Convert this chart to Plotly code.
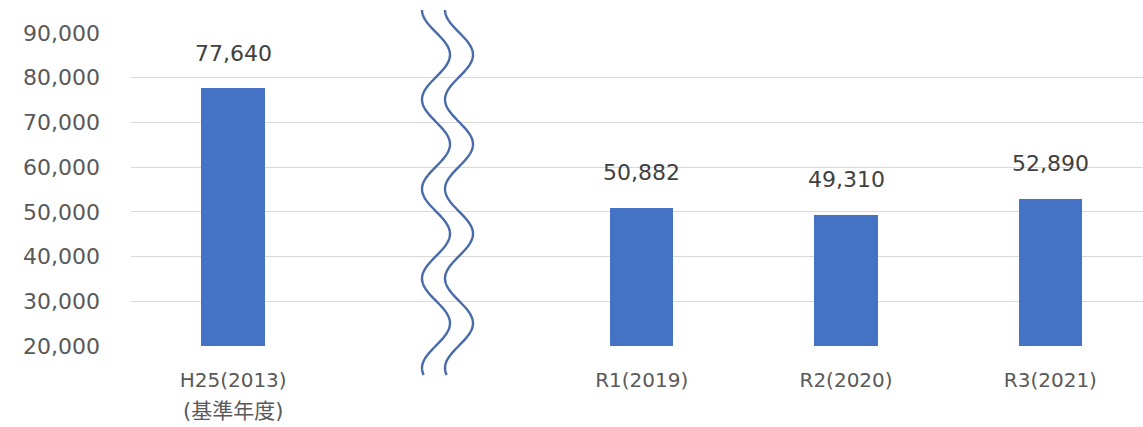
import numpy as np
import plotly.graph_objects as go

categories = ["H25(2013)", "", "R1(2019)", "R2(2020)", "R3(2021)"]
values = [77640, None, 50882, 49310, 52890]
sub_label = "(基準年度)"
y_ticks = [20000, 30000, 40000, 50000, 60000, 70000, 80000, 90000]

W, H = 1143, 427
ML, MR, MT, MB = 131, 0, 33, 81
PW, PH = W - ML - MR, H - MT - MB
slot = 204.3
xr = [-0.5, -0.5 + PW / slot]

FONT = "DejaVu Sans, Noto Sans CJK JP, sans-serif"
BAR = "#4472C4"

xs = list(range(len(categories)))
fig = go.Figure()
fig.add_trace(go.Bar(
    x=xs, y=values, width=0.31, marker=dict(color=BAR, line=dict(width=0)),
    hoverinfo="skip", showlegend=False,
))

for x, v in zip(xs, values):
    if v is None:
        continue
    fig.add_annotation(x=x, y=v, xref="x", yref="y", text=f"{v:,}",
                       showarrow=False, yshift=35, yanchor="middle",
                       font=dict(family=FONT, size=22, color="#404040"))

fig.add_annotation(x=0, y=(MT + PH - 411) / PH, xref="x", yref="paper",
                   text=sub_label, showarrow=False, yanchor="middle",
                   font=dict(family=FONT, size=21, color="#595959"))

# axis-break wavy lines (decoration)
def wave_path(cx):
    py = np.linspace(10, 375, 240)
    px = cx - 14 * np.cos(2 * np.pi * (py - 10) / 89.5)
    pts = [((a - ML) / PW, (MT + PH - b) / PH) for a, b in zip(px, py)]
    return "M " + " L ".join(f"{a:.5f},{b:.5f}" for a, b in pts)

for cx in (436, 459):
    fig.add_shape(type="path", path=wave_path(cx), xref="paper", yref="paper",
                  line=dict(color="#4A6BAA", width=2.4), layer="above")

fig.update_layout(
    width=W, height=H,
    margin=dict(l=ML, r=MR, t=MT, b=MB, pad=0),
    paper_bgcolor="white", plot_bgcolor="white",
    bargap=0,
    xaxis=dict(range=xr, tickmode="array", tickvals=xs, ticktext=categories,
               showgrid=False, zeroline=False, showline=False, ticks="",
               ticklabelstandoff=20,
               tickfont=dict(family=FONT, size=20, color="#595959"), fixedrange=True),
    yaxis=dict(range=[20000, 90000], tickmode="array", tickvals=y_ticks,
               ticktext=[f"{t:,}" for t in y_ticks],
               showgrid=True, gridcolor="#D9D9D9", gridwidth=1,
               zeroline=False, showline=False, ticks="",
               ticklabelstandoff=30,
               tickfont=dict(family=FONT, size=22, color="#595959"), fixedrange=True),
)

fig.write_html("out.html")
